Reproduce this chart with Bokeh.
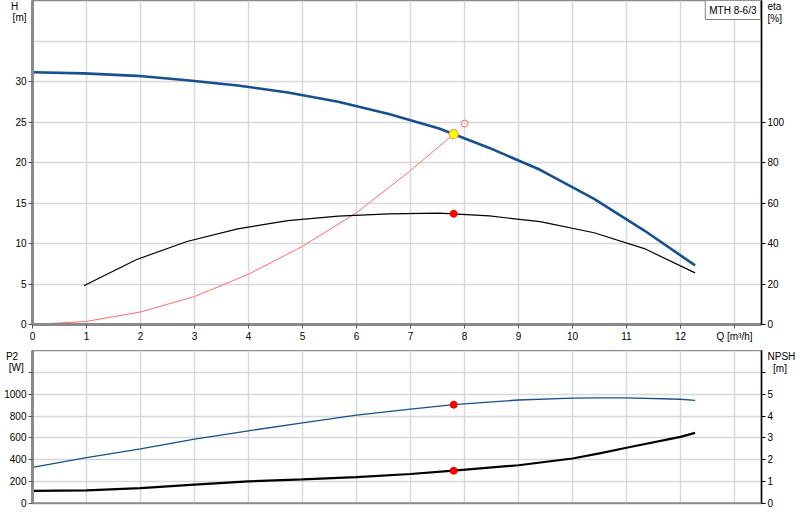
from bokeh.plotting import figure
from bokeh.models import Range1d, LinearAxis, FixedTicker, Label, Grid, Span
from bokeh.layouts import column
from bokeh.embed import file_html
from bokeh.resources import INLINE

FONT = "Liberation Sans"
FS = "10px"
NB = "\u00a0"

# ---- data ----
q_h = [0, 0.95, 1.93, 2.86, 3.8, 4.73, 5.66, 6.6, 7.53, 8.46, 9.4, 10.4, 11.33, 12.27]
head = [31.15, 31.0, 30.7, 30.15, 29.5, 28.65, 27.5, 26.0, 24.2, 21.8, 19.1, 15.5, 11.6, 7.3]

q_eta = [0.95, 1.93, 2.86, 3.8, 4.73, 5.66, 6.6, 7.53, 8.46, 9.4, 10.4, 11.33, 12.27]
eta = [19.1, 32.1, 41.0, 47.2, 51.3, 53.5, 54.6, 55.0, 53.6, 50.8, 45.3, 37.5, 25.5]

q_sys = [0, 1, 2, 3, 4, 5, 6, 7, 7.8]
h_sys = [0, 0.38, 1.55, 3.45, 6.2, 9.65, 13.8, 19.0, 23.5]

q_low = [0, 1, 2, 3, 4, 5, 6, 7, 7.8, 9, 10, 10.5, 11, 12, 12.27]
p2 = [331, 420, 499, 590, 665, 738, 809, 864, 904, 947, 964, 966, 966, 954, 944]
npsh = [0.58, 0.60, 0.70, 0.86, 1.01, 1.10, 1.21, 1.35, 1.50, 1.75, 2.06, 2.29, 2.55, 3.05, 3.23]

duty_q = [7.8]
duty_h = [23.5]
duty_eta = [54.7]
duty_p2 = [904]
duty_npsh = [1.50]
req_q = [8.0]
req_h = [24.8]

x_ticks = list(range(0, 14))
h_ticks = [0, 5, 10, 15, 20, 25, 30]
h_grid = [0, 5, 10, 15, 20, 25, 30, 35, 40]
eta_ticks = [0, 20, 40, 60, 80, 100]
p2_ticks = [0, 200, 400, 600, 800, 1000, 1200]
p2_labels = [0, 200, 400, 600, 800, 1000]
p2_grid = [0, 200, 400, 600, 800, 1000, 1200, 1400]
npsh_ticks = [0, 1, 2, 3, 4, 5, 6]
npsh_labels = [0, 1, 2, 3, 4, 5]
q_label = "Q [m³/h]"
pump_name = "MTH 8-6/3"

BLUE = "#15508f"
GRID = "#d6d8db"
AXGRAY = "#8a8a8a"

FW = 729
LB, RB = 32, 34
FH1, FH2 = 324, 153
H_MAX, ETA_MAX, P2_MAX, NPSH_MAX = 40, 160, 1400, 7


def label_style(ax):
    ax.major_label_text_font = FONT
    ax.major_label_text_font_size = FS
    ax.major_label_text_color = "#000000"
    ax.minor_tick_line_color = None


def tick_axis(ax, ticks, line_color, line_width, tick_color):
    # axis line + tick marks only
    ax.ticker = FixedTicker(ticks=ticks)
    ax.major_label_overrides = {t: "" for t in ticks}
    ax.axis_line_color = line_color
    ax.axis_line_width = line_width
    ax.major_tick_line_color = tick_color
    ax.major_tick_out = 4
    ax.major_tick_in = 0
    ax.major_label_standoff = 0
    label_style(ax)


def text_axis(ticks, overrides, range_name=None):
    # tick labels and axis titles only
    kw = {"y_range_name": range_name} if range_name else {}
    ax = LinearAxis(ticker=FixedTicker(ticks=ticks), **kw)
    ax.major_label_overrides = overrides
    ax.axis_line_color = None
    ax.major_tick_line_color = None
    ax.major_tick_out = 0
    ax.major_tick_in = 0
    ax.major_label_standoff = 2
    label_style(ax)
    return ax


def add_grids(p, xt, yt):
    p.center = [r for r in p.center if not isinstance(r, Grid)]
    p.add_layout(Grid(dimension=0, ticker=FixedTicker(ticks=xt), grid_line_color=GRID, grid_line_width=1.5), "center")
    p.add_layout(Grid(dimension=1, ticker=FixedTicker(ticks=yt), grid_line_color=GRID, grid_line_width=1.5), "center")


def px_below_top(vmax, frame_h, px):
    # value that sits px pixels below the top edge of the frame (for axis titles)
    return vmax - vmax * px / frame_h


# ---------------- top chart ----------------
p = figure(frame_width=FW, frame_height=FH1, min_border_left=LB, min_border_right=RB,
           min_border_top=0, min_border_bottom=26,
           x_range=Range1d(0, 13.5), y_range=Range1d(0, H_MAX),
           output_backend="svg", toolbar_location=None)
p.extra_y_ranges = {"eta": Range1d(0, ETA_MAX)}
p.outline_line_color = AXGRAY
p.outline_line_width = 1.5
add_grids(p, x_ticks, h_grid)

xa = p.xaxis[0]
xa.ticker = FixedTicker(ticks=x_ticks)
xa.major_label_overrides = {13: q_label}
xa.axis_line_color = AXGRAY
xa.axis_line_width = 3
xa.major_tick_line_color = "#555555"
xa.major_tick_out = 4
xa.major_tick_in = 0
xa.major_label_standoff = 2
label_style(xa)

tick_axis(p.yaxis[0], h_ticks, AXGRAY, 3, "#555555")
hy1 = px_below_top(H_MAX, FH1, 5)
hy2 = px_below_top(H_MAX, FH1, 17)
h_over = {hy1: "H" + NB * 3, hy2: "[m]"}
p.add_layout(text_axis(h_ticks + [hy2, hy1], h_over), "left")

ax_eta = LinearAxis(y_range_name="eta")
tick_axis(ax_eta, eta_ticks, "#000000", 1.5, "#000000")
p.add_layout(ax_eta, "right")
ey1 = px_below_top(ETA_MAX, FH1, 6)
ey2 = px_below_top(ETA_MAX, FH1, 17.5)
p.add_layout(text_axis(eta_ticks + [ey2, ey1], {ey1: "eta", ey2: "[%]"}, "eta"), "right")

p.line(q_sys, h_sys, line_color="#ff6b6b", line_width=1)
p.line(q_eta, eta, y_range_name="eta", line_color="#000000", line_width=1.2)
p.line(q_h, head, line_color=BLUE, line_width=2.6)
p.scatter(req_q, req_h, size=7, fill_color=None, line_color="#ff7070", line_width=1)
p.scatter(duty_q, duty_h, size=9, fill_color="#ffff00", line_color="#f0a040", line_width=1.2)
p.scatter(duty_q, duty_eta, y_range_name="eta", size=7, fill_color="#ff0000", line_color="#ff0000")

p.add_layout(Label(x=FW - 1, y=FH1, x_units="screen", y_units="screen", text=pump_name,
                   text_font=FONT, text_font_size=FS, text_color="#000000",
                   text_align="right", text_baseline="top", padding=4,
                   background_fill_color="white", border_line_color="#808080", border_line_width=1))

# ---------------- bottom chart ----------------
p2f = figure(frame_width=FW, frame_height=FH2, min_border_left=LB, min_border_right=RB,
             min_border_top=0, min_border_bottom=8,
             x_range=Range1d(0, 13.5), y_range=Range1d(0, P2_MAX),
             x_axis_location=None,
             output_backend="svg", toolbar_location=None)
p2f.extra_y_ranges = {"npsh": Range1d(0, NPSH_MAX)}
p2f.outline_line_color = AXGRAY
p2f.outline_line_width = 1.5
add_grids(p2f, x_ticks, p2_grid)

tick_axis(p2f.yaxis[0], p2_ticks, AXGRAY, 3, "#555555")
py1 = px_below_top(P2_MAX, FH2, 5)
py2 = px_below_top(P2_MAX, FH2, 17)
p2f.add_layout(text_axis(p2_labels + [py2, py1], {py1: "P2" + NB * 3, py2: "[W]" + NB}), "left")

ax_n = LinearAxis(y_range_name="npsh")
tick_axis(ax_n, npsh_ticks, "#000000", 1.5, "#000000")
p2f.add_layout(ax_n, "right")
ny1 = px_below_top(NPSH_MAX, FH2, 5.5)
ny2 = px_below_top(NPSH_MAX, FH2, 17.5)
p2f.add_layout(text_axis(npsh_labels + [ny2, ny1], {ny1: "NPSH", ny2: NB * 2 + "[m]"}, "npsh"), "right")
p2f.add_layout(Span(location=0, dimension="width", line_color=AXGRAY, line_width=2.5))

p2f.line(q_low, p2, line_color=BLUE, line_width=1.3)
p2f.line(q_low, npsh, y_range_name="npsh", line_color="#000000", line_width=2.2)
p2f.scatter(duty_q, duty_p2, size=7, fill_color="#ff0000", line_color="#ff0000")
p2f.scatter(duty_q, duty_npsh, y_range_name="npsh", size=7, fill_color="#ff0000", line_color="#ff0000")

layout = column(p, p2f)
open("out.html", "w").write(file_html(layout, INLINE))
